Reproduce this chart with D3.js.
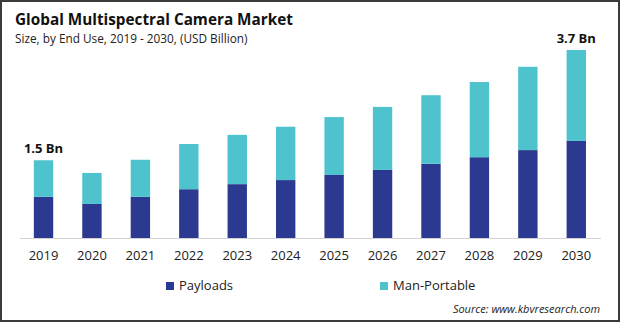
<!DOCTYPE html>
<html>
<head>
<meta charset="utf-8">
<script src="https://cdn.jsdelivr.net/npm/d3@7"></script>
<style>
  body { margin: 0; background: #fff; }
  svg { display: block; font-family: "Open Sans", sans-serif; }
</style>
</head>
<body>
<div id="chart"></div>
<script>
const years = ['2019', '2020', '2021', '2022', '2023', '2024', '2025', '2026', '2027', '2028', '2029', '2030'];
const payloads = [0.81, 0.67, 0.81, 0.96, 1.06, 1.14, 1.24, 1.34, 1.46, 1.59, 1.73, 1.91];
const manPortable = [0.72, 0.61, 0.73, 0.89, 0.97, 1.05, 1.14, 1.24, 1.35, 1.48, 1.64, 1.79];
const seriesNames = ['Payloads', 'Man-Portable'];
const endLabels = { '2019': '1.5 Bn', '2030': '3.7 Bn' };

const width = 620, height = 322;
const colors = { Payloads: '#2b3990', 'Man-Portable': '#4fc3cd' };

const svg = d3.select('#chart').append('svg')
  .attr('width', width)
  .attr('height', height);

// frame
svg.append('rect')
  .attr('x', 1).attr('y', 1)
  .attr('width', width - 2).attr('height', height - 2)
  .attr('fill', 'none')
  .attr('stroke', '#3a3a3a')
  .attr('stroke-width', 2);

svg.append('text')
  .attr('x', 15).attr('y', 25)
  .style('font-size', '15.3px')
  .style('font-weight', 'bold')
  .attr('fill', '#111')
  .text('Global Multispectral Camera Market');

svg.append('text')
  .attr('x', 15).attr('y', 43)
  .style('font-size', '11.8px')
  .attr('fill', '#222')
  .text('Size, by End Use, 2019 - 2030, (USD Billion)');

const data = years.map((y, i) => ({ year: y, Payloads: payloads[i], 'Man-Portable': manPortable[i] }));
const stacked = d3.stack().keys(seriesNames)(data);

const x = d3.scaleBand()
  .domain(years)
  .range([19.3, 600.5])
  .paddingInner(0.6)
  .paddingOuter(0.3);

const y = d3.scaleLinear()
  .domain([0, 3.7])
  .range([238, 50]);

svg.append('g')
  .selectAll('g')
  .data(stacked)
  .join('g')
  .attr('fill', d => colors[d.key])
  .selectAll('rect')
  .data(d => d)
  .join('rect')
  .attr('x', d => x(d.data.year))
  .attr('y', d => y(d[1]))
  .attr('width', x.bandwidth())
  .attr('height', d => y(d[0]) - y(d[1]));

// baseline + year labels
const xAxis = svg.append('g')
  .attr('transform', 'translate(0,238)')
  .call(d3.axisBottom(x).tickSize(0).tickPadding(13));
xAxis.select('.domain').attr('stroke', '#d4d4d4').attr('stroke-width', 1.2);
xAxis.selectAll('text')
  .style('font-size', '13px')
  .style('font-family', '"Open Sans", sans-serif')
  .attr('fill', '#222');

// total labels on first and last bars
svg.append('g')
  .selectAll('text')
  .data(data.filter(d => endLabels[d.year]))
  .join('text')
  .attr('x', d => x(d.year) + x.bandwidth() / 2)
  .attr('y', d => y(d.Payloads + d['Man-Portable']) - 7)
  .attr('text-anchor', 'middle')
  .style('font-size', '13px')
  .style('font-weight', 'bold')
  .attr('fill', '#111')
  .text(d => endLabels[d.year]);

// legend
const legendX = [166, 380];
const legend = svg.append('g')
  .selectAll('g')
  .data(seriesNames)
  .join('g')
  .attr('transform', (d, i) => `translate(${legendX[i]},282)`);
legend.append('rect')
  .attr('width', 8).attr('height', 8)
  .attr('fill', d => colors[d]);
legend.append('text')
  .attr('x', 13).attr('y', 8)
  .style('font-size', '13px')
  .attr('fill', '#222')
  .text(d => d);

svg.append('text')
  .attr('x', 600).attr('y', 313)
  .attr('text-anchor', 'end')
  .style('font-size', '11px')
  .style('font-style', 'italic')
  .attr('fill', '#222')
  .text('Source: www.kbvresearch.com');
</script>
</body>
</html>
